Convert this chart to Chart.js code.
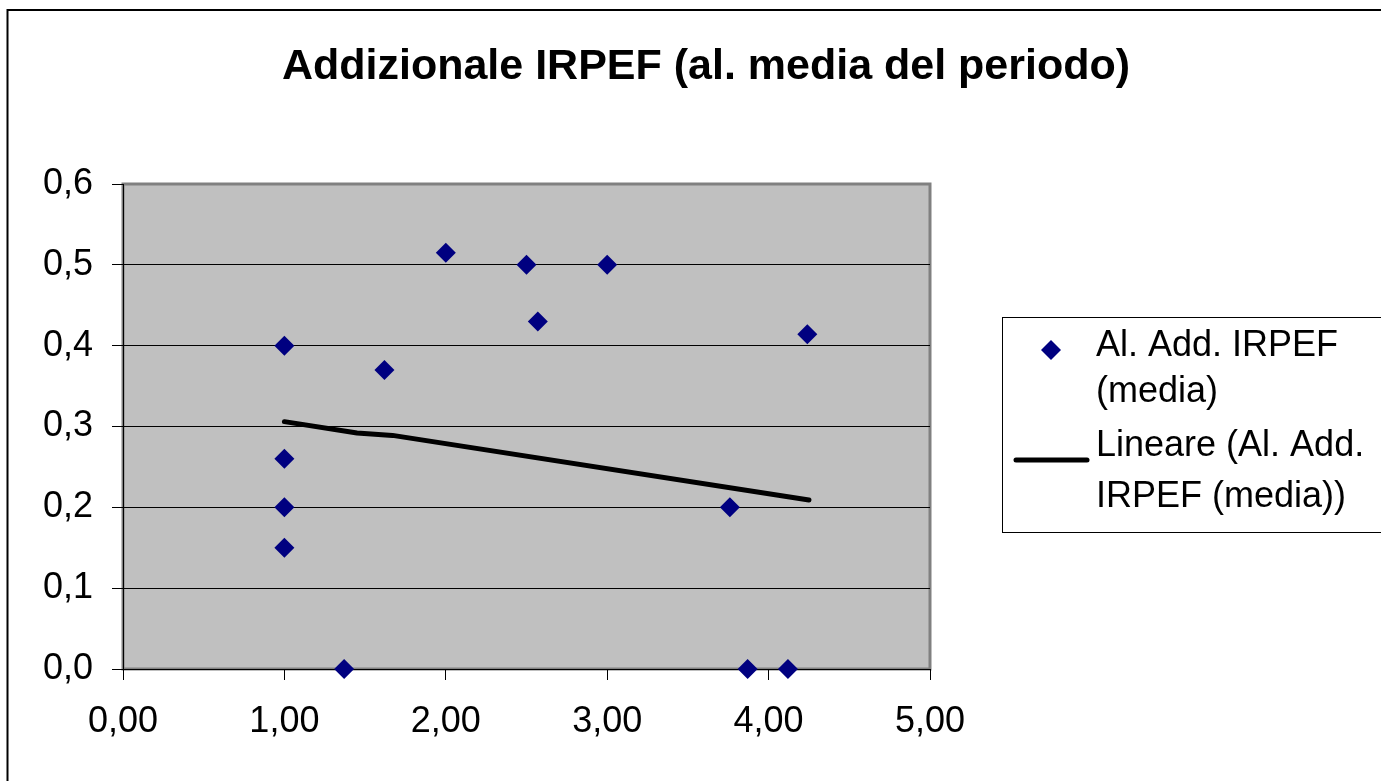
<!DOCTYPE html>
<html lang="it">
<head>
<meta charset="utf-8">
<title>Addizionale IRPEF</title>
<script src="https://cdn.jsdelivr.net/npm/chart.js@4.4.1/dist/chart.umd.min.js"></script>
<style>
  html, body { margin: 0; padding: 0; background: #fff; }
  #wrap { width: 1381px; height: 781px; }
</style>
</head>
<body>
<div id="wrap"><canvas id="grafico" width="1381" height="781"></canvas></div>
<script>
const titolo = 'Addizionale IRPEF (al. media del periodo)';
const etichettaSerie = 'Al. Add. IRPEF (media)';
const etichettaTrend = 'Lineare (Al. Add. IRPEF (media))';

// aliquota media (asse x) e addizionale IRPEF (asse y)
const aliquotaX = [1.00, 1.00, 1.00, 1.00, 1.37, 1.62, 2.00, 2.50, 2.57, 3.00, 3.76, 3.87, 4.12, 4.24];
const addizionaleY = [0.40, 0.26, 0.20, 0.15, 0.00, 0.37, 0.515, 0.50, 0.43, 0.50, 0.20, 0.00, 0.00, 0.414];

// linea di tendenza lineare
const trendX = [1.00, 1.45, 1.67, 4.25];
const trendY = [0.306, 0.292, 0.289, 0.209];

const tickX = [0, 1, 2, 3, 4, 5];
const tickY = [0, 0.1, 0.2, 0.3, 0.4, 0.5, 0.6];

// righe della legenda (testo a capo come nel foglio)
const righeLegenda = [['Al. Add. IRPEF', '(media)'], ['Lineare (Al. Add.', 'IRPEF (media))']];

const FONT = '"Liberation Sans", Arial, sans-serif';
const BLU = '#000080';

function rombo(ctx, x, y, r) {
    ctx.beginPath();
    ctx.moveTo(x - r, y);
    ctx.lineTo(x, y - r);
    ctx.lineTo(x + r, y);
    ctx.lineTo(x, y + r);
    ctx.closePath();
    ctx.fill();
}

// sfondo, area grigia, titolo, legenda e cornice esterna
const decorazioni = {
    id: 'decorazioni',
    beforeDraw(chart) {
        const { ctx, chartArea: a } = chart;
        ctx.save();
        ctx.fillStyle = '#fff';
        ctx.fillRect(0, 0, chart.width, chart.height);
        ctx.fillStyle = '#c0c0c0';
        ctx.fillRect(a.left, a.top, a.right - a.left, a.bottom - a.top);
        ctx.strokeStyle = '#808080';
        ctx.lineWidth = 3;
        ctx.strokeRect(a.left, a.top, a.right - a.left, a.bottom - a.top);
        ctx.restore();
    },
    afterDraw(chart) {
        const ctx = chart.ctx;
        ctx.save();

        // titolo
        ctx.fillStyle = '#000';
        ctx.font = 'bold 43px ' + FONT;
        ctx.textAlign = 'center';
        ctx.textBaseline = 'alphabetic';
        ctx.fillText(titolo, 706, 79);

        // legenda
        ctx.strokeStyle = '#000';
        ctx.lineWidth = 1;
        ctx.strokeRect(1002.5, 317.5, 420, 215);

        ctx.fillStyle = BLU;
        rombo(ctx, 1051, 350, 10);

        ctx.strokeStyle = '#000';
        ctx.lineWidth = 5;
        ctx.lineCap = 'round';
        ctx.beginPath();
        ctx.moveTo(1016, 460);
        ctx.lineTo(1087, 460);
        ctx.stroke();

        ctx.fillStyle = '#000';
        ctx.font = '36px ' + FONT;
        ctx.textAlign = 'left';
        const basi = [[356, 402], [456, 507]];
        righeLegenda.forEach((righe, i) => {
            righe.forEach((t, j) => ctx.fillText(t, 1096, basi[i][j]));
        });

        // cornice esterna
        ctx.lineWidth = 2;
        ctx.lineCap = 'butt';
        ctx.strokeRect(7.5, 10, 1420, 800);
        ctx.restore();
    }
};

const ctx = document.getElementById('grafico').getContext('2d');
new Chart(ctx, {
    type: 'scatter',
    data: {
        datasets: [
            {
                label: etichettaSerie,
                data: aliquotaX.map((x, i) => ({ x: x, y: addizionaleY[i] })),
                pointStyle: 'rectRot',
                pointRadius: 10,
                pointBorderWidth: 0,
                backgroundColor: BLU,
                borderColor: BLU,
                showLine: false,
                clip: false,
                order: 1
            },
            {
                label: etichettaTrend,
                type: 'line',
                data: trendX.map((x, i) => ({ x: x, y: trendY[i] })),
                borderColor: '#000',
                borderWidth: 5,
                borderCapStyle: 'round',
                borderJoinStyle: 'round',
                pointRadius: 0,
                fill: false,
                tension: 0,
                clip: false,
                order: 2
            }
        ]
    },
    options: {
        responsive: false,
        animation: false,
        events: [],
        layout: { padding: { top: 184, right: 451, bottom: 0, left: 0 } },
        plugins: {
            legend: { display: false },
            title: { display: false },
            tooltip: { enabled: false }
        },
        scales: {
            x: {
                type: 'linear',
                min: 0,
                max: 5,
                afterBuildTicks: s => { s.ticks = tickX.map(v => ({ value: v })); },
                afterFit: s => { s.height = 112; },
                grid: { drawOnChartArea: false, drawTicks: true, tickLength: 11, tickColor: '#000', tickWidth: 1 },
                border: { display: true, color: '#000', width: 1 },
                ticks: {
                    color: '#000',
                    padding: 20,
                    maxRotation: 0,
                    font: { family: FONT, size: 36 },
                    callback: v => v.toFixed(2).replace('.', ',')
                }
            },
            y: {
                type: 'linear',
                min: 0,
                max: 0.6,
                afterBuildTicks: s => { s.ticks = tickY.map(v => ({ value: v })); },
                afterFit: s => { s.width = 123; },
                grid: {
                    color: c => (c.tick && c.tick.value >= 0.6) ? 'rgba(0,0,0,0)' : '#000',
                    lineWidth: 1,
                    drawTicks: true,
                    tickLength: 11,
                    tickColor: '#000',
                    tickWidth: 1
                },
                border: { display: true, color: '#000', width: 1 },
                ticks: {
                    color: '#000',
                    padding: 19,
                    font: { family: FONT, size: 36 },
                    callback: v => v.toFixed(1).replace('.', ',')
                }
            }
        }
    },
    plugins: [decorazioni]
});
</script>
</body>
</html>
